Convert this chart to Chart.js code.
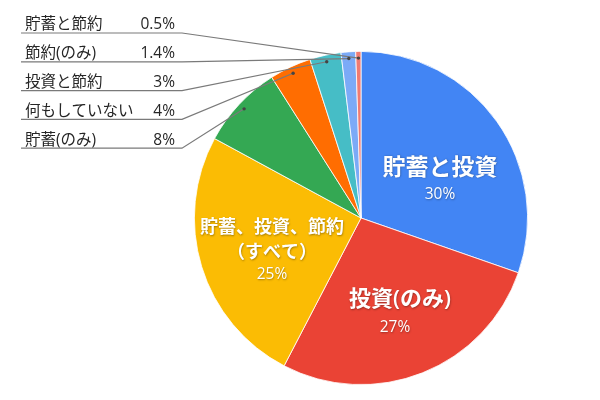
<!DOCTYPE html>
<html>
<head>
<meta charset="utf-8">
<script src="https://cdn.jsdelivr.net/npm/chart.js@4"></script>
<style>
  html, body { margin: 0; padding: 0; background: #fff; }
  #wrap { width: 600px; height: 400px; }
</style>
</head>
<body>
<div id="wrap"><canvas id="myChart" width="600" height="400"></canvas></div>
<script>
// chart data
const categories = ['貯蓄と投資', '投資(のみ)', '貯蓄、投資、節約（すべて）', '貯蓄(のみ)', '何もしていない', '投資と節約', '節約(のみ)', '貯蓄と節約'];
const shares = [30, 27, 25, 8, 4, 3, 1.4, 0.5];
const shareLabels = ['30%', '27%', '25%', '8%', '4%', '3%', '1.4%', '0.5%'];
const sliceColors = ['#4285F4', '#EA4335', '#FBBC04', '#34A853', '#FF6D01', '#46BDC6', '#7BAAF7', '#F07B72'];

const FONT = "'Open Sans', 'Noto Sans CJK JP', sans-serif";

// labels drawn inside the big slices (offsets from pie centre)
const insideLabels = {
  0: { dx: 79, dy: -50, lines: ['貯蓄と投資'], size: 23, gap: 0, pdx: 0, pgap: 27 },
  1: { dx: 39, dy: 82, lines: ['投資(のみ)'], size: 22, gap: 0, pdx: -5, pgap: 28 },
  2: { dx: -89, dy: 10, lines: ['貯蓄、投資、節約', '（すべて）'], size: 18, gap: 25, pdx: 0, pgap: 22 }
};
// small slices get a leader line to the list on the left (top to bottom)
const outsideOrder = [7, 6, 5, 4, 3];

const labelPlugin = {
  id: 'labelPlugin',
  afterDatasetsDraw(chart) {
    const ctx = chart.ctx;
    const arcs = chart.getDatasetMeta(0).data;
    const cx = arcs[0].x, cy = arcs[0].y;

    // inside labels
    ctx.save();
    ctx.fillStyle = '#fff';
    ctx.textAlign = 'center';
    ctx.textBaseline = 'middle';
    ctx.shadowColor = 'rgba(0,0,0,0.35)';
    ctx.shadowBlur = 2;
    ctx.shadowOffsetX = 0.5;
    ctx.shadowOffsetY = 0.5;
    Object.keys(insideLabels).forEach(k => {
      const l = insideLabels[k];
      const x = cx + l.dx;
      let y = cy + l.dy;
      ctx.font = '600 ' + l.size + 'px ' + FONT;
      l.lines.forEach((t, i) => {
        if (i > 0) y += l.gap;
        ctx.fillText(t, x, y);
      });
      ctx.font = '15.5px ' + FONT;
      ctx.fillText(shareLabels[k], x + l.pdx, y + l.pgap);
    });
    ctx.restore();

    // outside list with leader lines
    ctx.save();
    outsideOrder.forEach((idx, row) => {
      const a = arcs[idx];
      const mid = (a.startAngle + a.endAngle) / 2;
      const r = a.outerRadius * 0.96;
      const px = a.x + Math.cos(mid) * r;
      const py = a.y + Math.sin(mid) * r;
      const uy = 33 + row * 28.8;

      ctx.strokeStyle = '#7a7a7a';
      ctx.lineWidth = 1.2;
      ctx.beginPath();
      ctx.moveTo(21, uy);
      ctx.lineTo(182, uy);
      ctx.lineTo(px, py);
      ctx.stroke();

      ctx.fillStyle = '#444';
      ctx.beginPath();
      ctx.arc(px, py, 1.7, 0, Math.PI * 2);
      ctx.fill();

      ctx.fillStyle = '#262626';
      ctx.font = '15.5px ' + FONT;
      ctx.textBaseline = 'middle';
      ctx.textAlign = 'left';
      ctx.fillText(categories[idx], 25, uy - 8);
      ctx.textAlign = 'right';
      ctx.fillText(shareLabels[idx], 175, uy - 8);
    });
    ctx.restore();
  }
};

const ctx = document.getElementById('myChart');

new Chart(ctx, {
  type: 'pie',
  data: {
    labels: categories,
    datasets: [{
      data: shares,
      backgroundColor: sliceColors,
      borderColor: '#ffffff',
      borderWidth: 0.8
    }]
  },
  options: {
    responsive: false,
    animation: false,
    layout: { padding: { left: 194, right: 72, top: 51, bottom: 15 } },
    plugins: {
      legend: { display: false },
      tooltip: { enabled: false }
    }
  },
  plugins: [labelPlugin]
});
</script>
</body>
</html>
